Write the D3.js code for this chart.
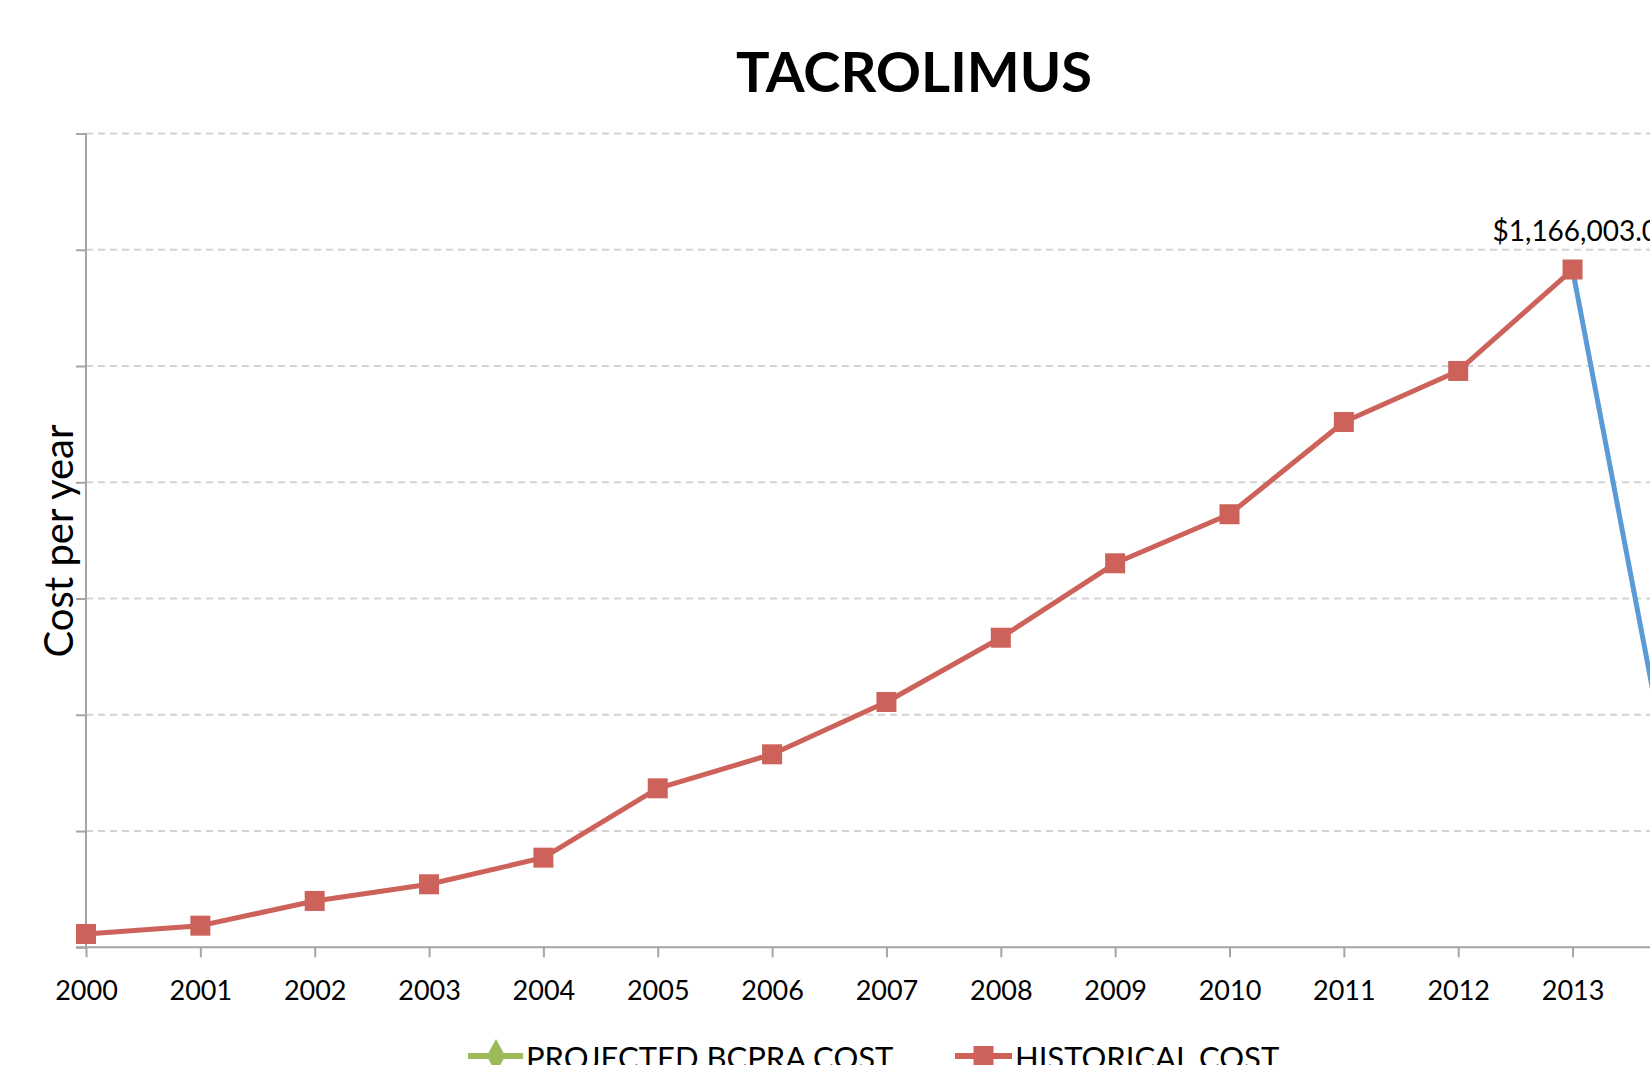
<!DOCTYPE html>
<html>
<head>
<meta charset="utf-8">
<script src="https://cdn.jsdelivr.net/npm/d3@7/dist/d3.min.js"></script>
<style>
  html, body { margin: 0; padding: 0; background: #fff; overflow: hidden; }
  svg { display: block; font-family: Lato, "Open Sans", sans-serif; }
</style>
</head>
<body>
<svg id="chart" width="1650" height="1065"></svg>
<script>
// ---- data ----
const years = [2000, 2001, 2002, 2003, 2004, 2005, 2006, 2007, 2008, 2009, 2010, 2011, 2012, 2013, 2014, 2015];
const historicalYears = [2000, 2001, 2002, 2003, 2004, 2005, 2006, 2007, 2008, 2009, 2010, 2011, 2012, 2013];
const historicalCost = [22900, 37200, 79700, 108400, 154200, 273500, 332000, 422000, 532600, 660600, 745000, 903700, 991500, 1166003];
const projectedYears = [2013, 2014];
const projectedCost = [1166003, 134000];
const yTicks = [0, 200000, 400000, 600000, 800000, 1000000, 1200000, 1400000];
const labelYear = 2013;
const labelText = "$1,166,003.00";
const legendItems = ["PROJECTED BCPRA COST", "HISTORICAL COST"];

// ---- layout ----
const svg = d3.select("#chart");
const X0 = 86, STEP = 114.35;
const yBottom = 947.3, yTop = 133.5;

const x = d3.scaleLinear().domain([2000, 2001]).range([X0, X0 + STEP]);
const y = d3.scaleLinear().domain([0, 1400000]).range([yBottom, yTop]);

const gridColor = "#D3D3D3", axisColor = "#A5A5A5";
const red = "#CD625B", blue = "#5B9BD5", green = "#9BBB59";

// title
svg.append("text")
  .attr("x", 914).attr("y", 92)
  .attr("text-anchor", "middle")
  .attr("font-weight", 700).attr("font-size", 56)
  .attr("fill", "#000")
  .text("TACROLIMUS");

// gridlines
svg.append("g").selectAll("line").data(yTicks.filter(d => d > 0)).join("line")
  .attr("x1", X0).attr("x2", 1650)
  .attr("y1", d => y(d)).attr("y2", d => y(d))
  .attr("stroke", gridColor).attr("stroke-width", 2)
  .attr("stroke-dasharray", "7,5");

// y axis
const yAxis = d3.axisLeft(y).tickValues(yTicks).tickSize(10).tickFormat("");
const gy = svg.append("g").attr("transform", `translate(${X0},0)`).call(yAxis);
gy.select(".domain").attr("stroke", axisColor).attr("stroke-width", 2).attr("d", `M0,${yTop}V${yBottom}`);
gy.selectAll(".tick line").attr("stroke", axisColor).attr("stroke-width", 2);

// x axis
const xAxis = d3.axisBottom(x).tickValues(years).tickSize(10).tickFormat(d3.format("d")).tickPadding(17);
const gx = svg.append("g").attr("transform", `translate(0,${yBottom})`).call(xAxis);
gx.select(".domain").attr("stroke", axisColor).attr("stroke-width", 2).attr("d", `M${X0 - 10},0H1650`);
gx.selectAll(".tick line").attr("stroke", axisColor).attr("stroke-width", 2);
gx.selectAll(".tick text").attr("font-size", 27).attr("fill", "#000")
  .attr("font-family", "Lato, sans-serif").attr("dy", "0.95em");

// y axis title
svg.append("text")
  .attr("transform", `translate(73,541) rotate(-90)`)
  .attr("text-anchor", "middle")
  .attr("font-size", 40).attr("fill", "#000")
  .text("Cost per year");

// projected (blue) line
const line = d3.line().x(d => x(d[0])).y(d => y(d[1]));
svg.append("path")
  .datum(projectedYears.map((yr, i) => [yr, projectedCost[i]]))
  .attr("d", line)
  .attr("fill", "none").attr("stroke", blue).attr("stroke-width", 5);

// historical line
const hist = historicalYears.map((yr, i) => [yr, historicalCost[i]]);
svg.append("path")
  .datum(hist)
  .attr("d", line)
  .attr("fill", "none").attr("stroke", red).attr("stroke-width", 5)
  .attr("stroke-linejoin", "round");

const M = 20;
svg.append("g").selectAll("rect").data(hist).join("rect")
  .attr("x", d => x(d[0]) - M / 2).attr("y", d => y(d[1]) - M / 2)
  .attr("width", M).attr("height", M)
  .attr("fill", red);

// data label
const li = historicalYears.indexOf(labelYear);
svg.append("text")
  .attr("x", x(labelYear) - 80).attr("y", y(historicalCost[li]) - 29)
  .attr("text-anchor", "start")
  .attr("font-size", 28).attr("fill", "#000")
  .text(labelText);

// legend
const legY = 1056;
const leg = svg.append("g");
// projected entry
leg.append("line").attr("x1", 468).attr("x2", 523).attr("y1", legY).attr("y2", legY)
  .attr("stroke", green).attr("stroke-width", 6);
leg.append("path").attr("d", d3.symbol().type(d3.symbolDiamond).size(300)())
  .attr("transform", `translate(496,${legY}) scale(1,1.05)`).attr("fill", green);
leg.append("text").attr("x", 526).attr("y", 1069).attr("font-size", 31).attr("fill", "#000")
  .text(legendItems[0]);
// historical entry
leg.append("line").attr("x1", 955).attr("x2", 1012).attr("y1", legY).attr("y2", legY)
  .attr("stroke", red).attr("stroke-width", 6);
leg.append("rect").attr("x", 983.5 - 10).attr("y", legY - 10).attr("width", 20).attr("height", 20).attr("fill", red);
leg.append("text").attr("x", 1015).attr("y", 1069).attr("font-size", 31).attr("fill", "#000")
  .text(legendItems[1]);
</script>
</body>
</html>
